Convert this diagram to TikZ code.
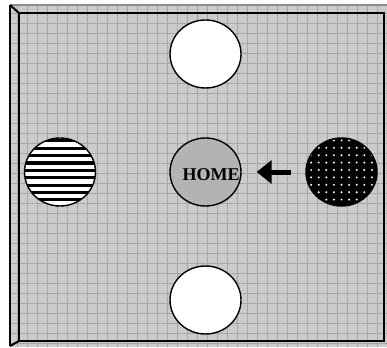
\documentclass[tikz,border=0pt]{standalone}
\usepackage{fontspec}
\setmainfont{Liberation Serif}
\usetikzlibrary{shapes.geometric,arrows.meta}
\definecolor{bgfill}{HTML}{CBCBCB}
\definecolor{gridln}{HTML}{A6A6A6}
\definecolor{homefill}{HTML}{B3B3B3}
\definecolor{rimgray}{HTML}{8C8C8C}
\tikzset{
  frameline/.style={line width=2pt, black},
  disc/.style={ellipse, draw=black, line width=1.4pt, minimum width=71pt, minimum height=68pt, inner sep=0pt},
  whitedisc/.style={disc, fill=white},
  homedisc/.style={disc, fill=homefill},
  stripedisc/.style={disc, fill=white, path picture={
      \foreach \k in {0,...,9}{
        \fill[black] ([yshift=-\k*7.35pt+31pt]path picture bounding box.west) ++(0,-1.5pt) rectangle ++(80pt,3.1pt);
      }}},
  dotdisc/.style={disc, fill=black, path picture={
      \foreach \i in {-5,...,5}{\foreach \j in {-5,...,5}{
        \fill[white] ([xshift=\i*7.6pt,yshift=\j*7.4pt+2pt]path picture bounding box.center) circle (1.1pt);
      }}}},
  hometext/.style={font=\bfseries\fontsize{18}{20}\selectfont, inner sep=0pt},
  movearrow/.style={line width=5pt, -{Triangle[width=23pt,length=15pt]}}
}
\begin{document}
\begin{tikzpicture}[x=1pt,y=-1pt]
\useasboundingbox (0,0) rectangle (387,347);
% board background
\fill[bgfill] (10,5) rectangle (387,347);
\begin{scope}
  \clip (10,5) rectangle (387,347);
  \foreach \gx in {7,17,...,387}{\draw[gridln, line width=0.6pt] (\gx,5) -- (\gx,347);}
  \foreach \gy in {3,13,...,347}{\draw[gridln, line width=0.6pt] (10,\gy) -- (387,\gy);}
\end{scope}
% frame
\draw[rimgray, line width=1.2pt] (10,5) -- (387,5);
\draw[frameline] (10,5) -- (10,346);
\draw[frameline] (19,13) rectangle (384,341);
\draw[frameline] (10,5) -- (19,13);
\draw[frameline] (10,346) -- (19,341);
% discs
\node[whitedisc] (top) at (205.5,54) {};
\node[whitedisc] (bottom) at (205.5,300) {};
\node[stripedisc] (left) at (60,172) {};
\node[dotdisc] (right) at (341.5,172) {};
\node[homedisc] (home) at (205.5,172) {};
\node[hometext] (homelabel) at (211,175) {HOME};
% arrow
\draw[movearrow, shorten <=14.5pt, shorten >=15pt] (right) -- (home);
\end{tikzpicture}
\end{document}
